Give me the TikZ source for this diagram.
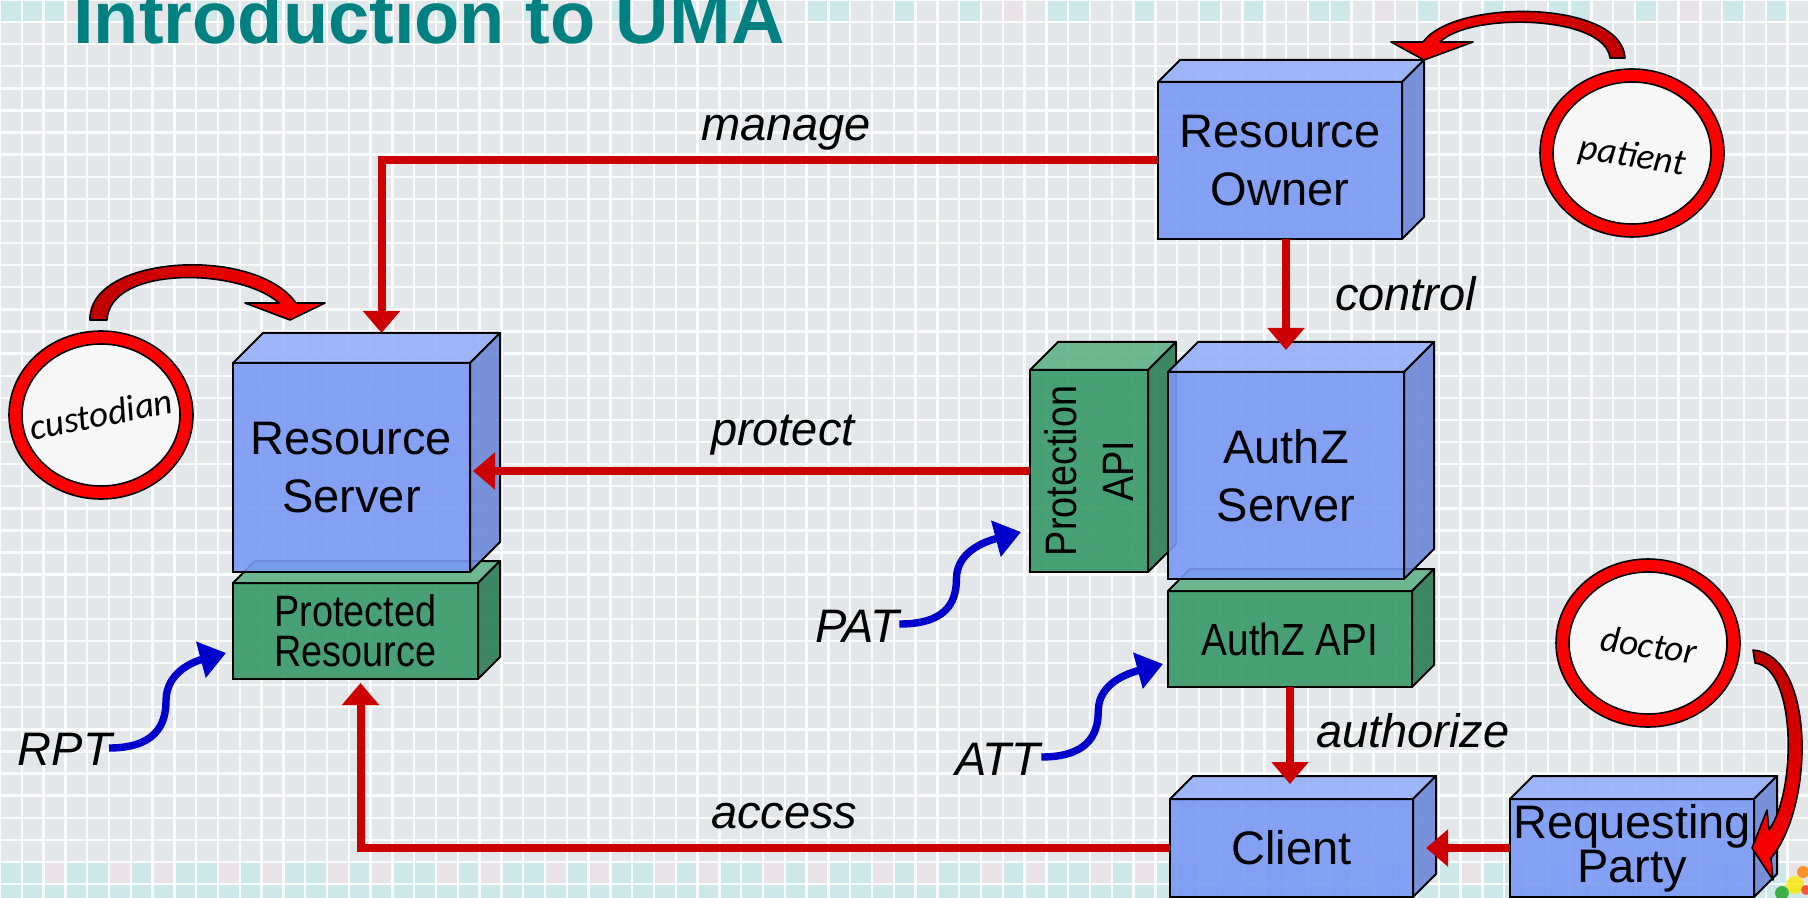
\documentclass[tikz,border=0pt]{standalone}
\usepackage{fontspec}
\setmainfont{Liberation Sans}
\newfontfamily\narrowsans{Liberation Sans}[FakeStretch=0.86]
\newfontfamily\handfont{Carlito}
\usetikzlibrary{arrows.meta,shapes.geometric}

\definecolor{bgcol}{RGB}{228,231,234}
\definecolor{cellcyan}{RGB}{206,232,234}
\definecolor{cellpink}{RGB}{233,226,231}
\definecolor{titlecol}{RGB}{0,128,128}
\definecolor{connred}{RGB}{204,0,0}
\definecolor{tokblue}{RGB}{0,0,204}
\definecolor{bluefront}{RGB}{122,153,244}
\definecolor{bluetop}{RGB}{150,175,248}
\definecolor{blueside}{RGB}{108,135,215}
\definecolor{greenfront}{RGB}{53,153,104}
\definecolor{greentop}{RGB}{96,178,135}
\definecolor{greenside}{RGB}{42,125,84}
\definecolor{ringred}{RGB}{255,0,0}
\definecolor{ringin}{RGB}{247,247,247}
\definecolor{arrowdark}{RGB}{190,0,0}

\tikzset{
  cubeface/.style={rectangle, draw=black, line width=1pt, fill opacity=0.9, text opacity=1,
    align=center, inner sep=0pt, outer sep=0pt},
  cubeedge/.style={draw=black, line width=1pt, fill opacity=0.9, line join=round},
  servertext/.style={font=\fontsize{23.5}{28.7}\selectfont},
  apitext/.style={font=\narrowsans\fontsize{22}{20}\selectfont},
  lbl/.style={font=\fontsize{23.5}{28}\selectfont\itshape, inner sep=0pt, outer sep=0pt},
  conn/.style={draw=connred, line width=4pt, -{Triangle[width=18pt,length=11pt]}},
  tok/.style={draw=tokblue, line width=3.7pt, -{Triangle[width=18pt,length=13pt]}},
  ring/.style={ellipse, draw=black, line width=0.8pt, fill=ringred,
    minimum width=92pt, minimum height=84pt, inner sep=0pt},
  ringcore/.style={ellipse, draw=black, line width=0.8pt, fill=ringin,
    minimum width=79pt, minimum height=71pt, inner sep=0pt},
  roletext/.style={font=\handfont\itshape\fontsize{18.5}{20}\selectfont, inner sep=0pt},
  bendarrow/.style={draw=black, line width=0.8pt, line join=round},
  gridline/.style={white, line width=1.2pt, opacity=0.85},
}

% #1 name, #2 left, #3 top, #4 width, #5 height, #6 depth, #7 colour set, #8 extra style, #9 text
\newcommand\drawcube[9]{%
  \node[cubeface, fill=#7front, minimum width={#4*0.5pt}, minimum height={#5*0.5pt}, #8]
    (#1) at ({#2+#4/2},{#3+#5/2}) {#9};
  \filldraw[cubeedge, fill=#7top] (#1.north west) -- ++(#6,-#6) -- ++(#4,0) -- (#1.north east) -- cycle;
  \filldraw[cubeedge, fill=#7side] (#1.north east) -- ++(#6,-#6) -- ++(0,#5) -- (#1.south east) -- cycle;
}

\begin{document}
\begin{tikzpicture}[x=0.5pt, y=-0.5pt]
\useasboundingbox (0,0) rectangle (1808,898);

% ---- tiled background ----
\fill[bgcol] (0,0) rectangle (1808,898);
\foreach \k in {0,1,2,5,9,12,15,20,24,28,33,37,38,41,44,48,49,52,55,57,60,61,65,68,71,72,75,79,81}
  \fill[cellcyan] ({\k*21.8},0) rectangle ({(\k+1)*21.8},21);
\foreach \k in {3,7,18,26,30,46,63,77}
  \fill[cellpink] ({\k*21.8},0) rectangle ({(\k+1)*21.8},21);
\foreach \k in {0,1,3,4,6,8,9,11,13,14,16,18,19,21,23,24,26,28,29,31,33,34,36,38,39,41,43,44,46,48,49,51,53,54,56,58,59,61,63,64,66,68,69,71,73,74,76,78,79,81}
  \fill[cellcyan] ({\k*21.8},862) rectangle ({(\k+1)*21.8},884);
\foreach \k in {2,5,7,10,12,15,17,20,22,25,27,30,32,35,37,40,42,45,47,50,52,55,57,60,62,65,67,70,72,75,77,80,82}
  \fill[cellpink] ({\k*21.8},862) rectangle ({(\k+1)*21.8},884);
\fill[cellcyan] (0,884) rectangle (1808,898);
\foreach \i in {0,...,83} \draw[gridline] ({\i*21.8},0) -- ({\i*21.8},898);
\foreach \j in {0,...,41} \draw[gridline] (0,{\j*22.1}) -- (1808,{\j*22.1});

% ---- title ----
\node[anchor=base west, inner sep=0pt, font=\fontsize{37}{40}\selectfont\bfseries, text=titlecol]
  (title) at (73,44) {Introduction to UMA};

% ---- servers and APIs ----
\drawcube{pr}{233}{583}{245}{96}{22}{green}{apitext}{Protected\\Resource}
\drawcube{rs}{233}{363}{237}{209}{30}{blue}{servertext}{Resource\\Server}
\drawcube{aapi}{1168}{591}{244}{96}{22}{green}{apitext, font=\narrowsans\fontsize{22.5}{22}\selectfont}{AuthZ API}
\drawcube{pa}{1030}{370}{118}{202}{28}{green}{}{}
\node[rotate=90, align=center, inner sep=0pt, font=\narrowsans\fontsize{22}{28.5}\selectfont]
  (pa-text) at (pa.center) {Protection\\API};
\drawcube{az}{1168}{372}{236}{207}{30}{blue}{servertext}{AuthZ\\Server}
\drawcube{ro}{1158}{82}{244}{157}{22}{blue}{servertext}{Resource\\Owner}
\drawcube{cl}{1170}{799}{243}{98}{23}{blue}{servertext}{Client}
\drawcube{rp}{1510}{799}{244}{98}{23}{blue}{font=\fontsize{23.5}{19}\selectfont}{Requesting\\Party}

% ---- connector end points ----
\coordinate (rs-in) at ([shift={(30,-30)}]rs.north);
\coordinate (az-in) at ([shift={(0,-22)}]az.north);
\coordinate (rs-pin) at ([shift={(3,0)}]rs.east);
\coordinate (cl-in) at ([shift={(0,-15)}]cl.north);
\coordinate (pr-in) at ([shift={(5,4)}]pr.south);
\coordinate (cl-rin) at ([shift={(13,0)}]cl.east);

% ---- flows ----
\draw[conn] (ro.west) -| (rs-in);
\draw[conn] (az-in |- ro.south) -- (az-in);
\draw[conn] (pa.west) -- (pa.west -| rs-pin);
\draw[conn] (aapi.south) -- (aapi.south |- cl-in);
\draw[conn] (cl.west) -| (pr-in);
\draw[conn] (rp.west) -- (cl-rin);

\node[lbl, anchor=base west] (l-manage) at (701,141) {manage};
\node[lbl, anchor=base west] (l-control) at (1335,311) {control};
\node[lbl, anchor=base west] (l-protect) at (711,445) {protect};
\node[lbl, anchor=base west] (l-authorize) at (1316,747) {authorize};
\node[lbl, anchor=base west] (l-access) at (711,828) {access};

% ---- tokens ----
\node[lbl, anchor=base west] (pat) at (815,642) {PAT};
\node[lbl, anchor=base west] (att) at (955,775) {ATT};
\node[lbl, anchor=base west] (rpt) at (18,765) {RPT};
\coordinate (pa-tok) at ([shift={(-9,-40)}]pa.south west);
\coordinate (aapi-tok) at ([shift={(-5,25)}]aapi.west);
\coordinate (pr-tok) at ([shift={(-7,22)}]pr.west);
\draw[tok] ([shift={(0,-18)}]pat.base east) .. controls +(45,0) and +(0,25) .. ++(57,-45)
  .. controls +(0,-30) and +(-30,8) .. (pa-tok);
\draw[tok] ([shift={(1,-18)}]att.base east) .. controls +(45,0) and +(0,25) .. ++(57,-46)
  .. controls +(0,-30) and +(-30,8) .. (aapi-tok);
\draw[tok] ([shift={(-3,-17)}]rpt.base east) .. controls +(45,0) and +(0,25) .. ++(57,-47)
  .. controls +(0,-30) and +(-30,8) .. (pr-tok);

% ---- roles ----
\node[ring] (cust) at (101,415) {};
\node[ringcore] (cust-core) at (cust.center) {};
\node[roletext, rotate=11] (cust-lbl) at (101,414) {custodian};

\node[ring] (pat-role) at (1632,153) {};
\node[ringcore] (pat-core) at (pat-role.center) {};
\node[roletext, rotate=-9] (pat-lbl) at (1632,157) {patient};

\node[ring] (doc) at (1648,643) {};
\node[ringcore] (doc-core) at (doc.center) {};
\node[roletext, rotate=-8] (doc-lbl) at (1649,645) {doctor};

% bent arrows from the roles
\shadedraw[bendarrow, left color=arrowdark, right color=ringred]
  (90,320) .. controls (88,255) and (255,245) .. (296,303) -- (325,303) -- (290,320) -- (245,303)
  -- (279,303) .. controls (240,268) and (110,265) .. (107,320) -- cycle;
\shadedraw[bendarrow, left color=ringred, right color=arrowdark]
  (1625,58) .. controls (1622,0) and (1455,-2) .. (1423,42) -- (1391,42) -- (1424,60) -- (1473,42)
  -- (1440,42) .. controls (1470,12) and (1605,15) .. (1610,58) -- cycle;
\shadedraw[bendarrow, top color=arrowdark, bottom color=ringred]
  (1753,650) .. controls (1815,655) and (1815,805) .. (1771,858) -- (1773,880) -- (1752,848)
  -- (1767,810) -- (1769,830) .. controls (1797,790) and (1796,668) .. (1755,663) -- cycle;

% paint splash in the corner
\fill[yellow!90!orange, opacity=0.8] (1795,885) circle (9);
\fill[orange, opacity=0.8] (1803,872) circle (6);
\fill[green!60!black, opacity=0.7] (1782,893) circle (7);
\fill[red!80!orange, opacity=0.7] (1806,890) circle (5);
\end{tikzpicture}
\end{document}
